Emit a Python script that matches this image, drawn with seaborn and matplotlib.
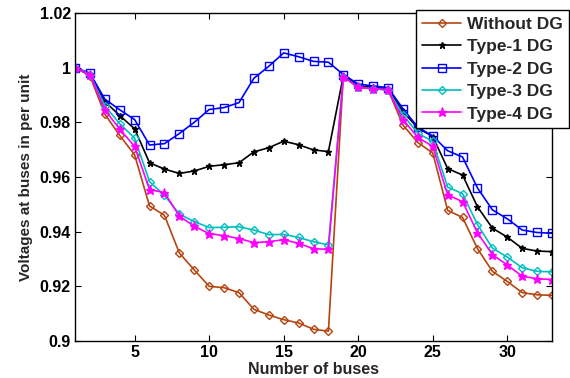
import numpy as np
import pandas as pd
import matplotlib
matplotlib.use("Agg")
import matplotlib.pyplot as plt
import seaborn as sns

buses = list(range(1, 34))

without_dg = [1.0, 0.997, 0.983, 0.9752, 0.9681, 0.9494, 0.946, 0.9322, 0.926, 0.920,
              0.9195, 0.9177, 0.9116, 0.9095, 0.9078, 0.9066, 0.9043, 0.9036,
              0.9967, 0.9928, 0.9923, 0.9919, 0.979, 0.9726, 0.9688,
              0.9478, 0.9452, 0.9338, 0.9255, 0.9218, 0.9177, 0.9169, 0.9167]
type1 = [1.0, 0.9977, 0.9876, 0.9825, 0.9776, 0.9652, 0.9629, 0.9613, 0.9622, 0.9639,
         0.9645, 0.9652, 0.9692, 0.9707, 0.9731, 0.9718, 0.9699, 0.9693,
         0.997, 0.9933, 0.9928, 0.9923, 0.984, 0.9779, 0.9748,
         0.9631, 0.9607, 0.9491, 0.9413, 0.938, 0.9339, 0.9329, 0.9327]
type2 = [1.0, 0.998, 0.9885, 0.9846, 0.981, 0.9717, 0.9722, 0.9759, 0.980, 0.9847,
         0.9854, 0.9872, 0.9961, 1.0005, 1.0054, 1.004, 1.0023, 1.002,
         0.9975, 0.994, 0.9933, 0.9927, 0.985, 0.9782, 0.975,
         0.9696, 0.9673, 0.956, 0.948, 0.9447, 0.9406, 0.9397, 0.9394]
type3 = [1.0, 0.9975, 0.986, 0.9795, 0.9742, 0.9583, 0.9533, 0.9464, 0.9437, 0.9415,
         0.9416, 0.9418, 0.9406, 0.9389, 0.939, 0.9379, 0.9363, 0.9352,
         0.9967, 0.9928, 0.9923, 0.9919, 0.9827, 0.976, 0.973,
         0.9563, 0.9539, 0.9426, 0.934, 0.9307, 0.9268, 0.9255, 0.9253]
type4 = [1.0, 0.9975, 0.9846, 0.9775, 0.9712, 0.9554, 0.9543, 0.9457, 0.942, 0.9393,
         0.9385, 0.9375, 0.936, 0.9363, 0.9371, 0.9357, 0.9338, 0.9335,
         0.9967, 0.9928, 0.9923, 0.9919, 0.981, 0.9745, 0.9712,
         0.9534, 0.951, 0.9396, 0.9316, 0.9278, 0.9237, 0.9228, 0.9225]

series_names = ["Without DG", "Type-1 DG", "Type-2 DG", "Type-3 DG", "Type-4 DG"]
series_vals = [without_dg, type1, type2, type3, type4]
colors = ["#B5450F", "#000000", "#0000FF", "#00BFBF", "#FF00FF"]
markers = ["D", "*", "s", "D", "*"]
msizes = [4.5, 5, 6, 4.5, 6.5]
mfill = ["none", "#000000", "none", "none", "#FF00FF"]

xticks = [5, 10, 15, 20, 25, 30]
yticks = [0.9, 0.92, 0.94, 0.96, 0.98, 1.0, 1.02]
ytick_labels = ["0.9", "0.92", "0.94", "0.96", "0.98", "1", "1.02"]

sns.set_theme(style="white")
plt.rcParams["font.family"] = ["Liberation Sans", "DejaVu Sans"]
plt.rcParams["font.weight"] = "bold"

fig = plt.figure(figsize=(5.7, 3.78), dpi=100)
ax = fig.add_axes([75 / 570, 1 - 341 / 378, (552 - 75) / 570, (341 - 13) / 378])

df = pd.DataFrame({"bus": buses})
for name, vals, c, m, ms, mf in zip(series_names, series_vals, colors, markers, msizes, mfill):
    df[name] = vals
    sns.lineplot(x="bus", y=name, data=df, ax=ax, color=c, marker=m, markersize=ms,
                 markerfacecolor=mf, markeredgecolor=c, markeredgewidth=1.0,
                 linewidth=1.2, label=name)

ax.set_xlim(1, 33)
ax.set_ylim(0.9, 1.02)
ax.set_xticks(xticks)
ax.set_xticklabels([str(t) for t in xticks], fontsize=11.5, fontweight="bold")
ax.set_yticks(yticks)
ax.set_yticklabels(ytick_labels, fontsize=11.5, fontweight="bold")
ax.tick_params(direction="in", length=4, width=0.8, top=True, right=True,
               bottom=True, left=True, colors="black", pad=3)
for sp in ax.spines.values():
    sp.set_visible(True)
    sp.set_color("black")
    sp.set_linewidth(1.0)

ax.set_xlabel("Number of buses", fontsize=11.5, fontweight="bold", labelpad=1)
ax.set_ylabel("Voltages at buses in per unit", fontsize=11, fontweight="bold", labelpad=5)

leg = ax.legend(loc="upper right", bbox_to_anchor=(1.036, 1.009), borderaxespad=0,
                fancybox=False, framealpha=1, edgecolor="black",
                prop={"size": 12.5, "weight": "bold"}, handlelength=2.2,
                handletextpad=0.35, labelspacing=0.42, borderpad=0.38)
leg.get_frame().set_linewidth(1.0)
leg.set_zorder(10)

fig.savefig("out.png", dpi=100)
